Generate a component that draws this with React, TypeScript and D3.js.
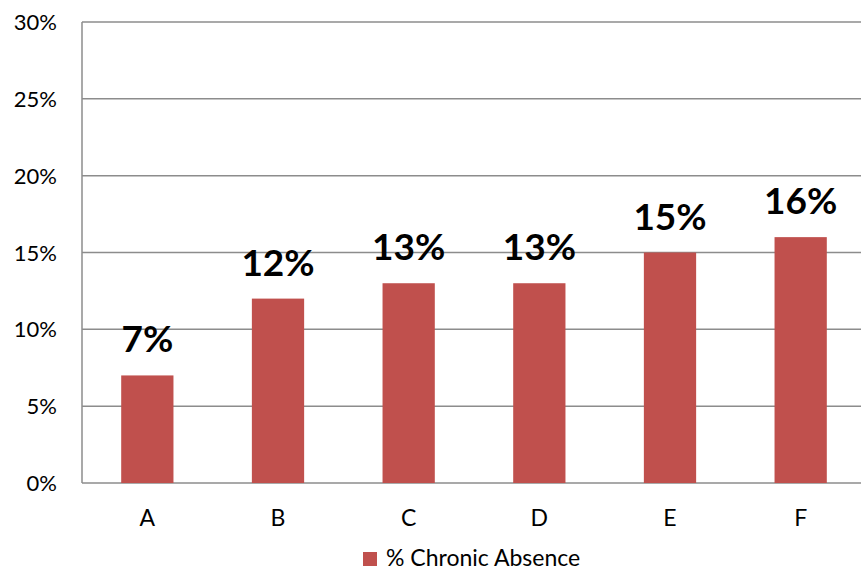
import * as d3 from "d3";

const categories = ["A", "B", "C", "D", "E", "F"];
const values = [7, 12, 13, 13, 15, 16];
const yTicks = [0, 5, 10, 15, 20, 25, 30];
const seriesName = "% Chronic Absence";

const W = 861;
const H = 570;
const margin = { left: 82, top: 22, bottom: 87 };
const plotRight = 866;
const font = "Lato, 'Open Sans', sans-serif";

export default function App() {
  const x = d3
    .scaleBand<string>()
    .domain(categories)
    .range([margin.left, plotRight])
    .paddingInner(0.6)
    .paddingOuter(0.3);
  const y = d3.scaleLinear().domain([0, 30]).range([H - margin.bottom, margin.top]);

  return (
    <svg
      width={W}
      height={H}
      style={{ position: "absolute", left: 0, top: 0, background: "#fff" }}
      fontFamily={font}
    >
      {yTicks.map((t) => (
        <g key={t}>
          <line x1={margin.left} x2={W} y1={y(t)} y2={y(t)} stroke="#8c8c8c" strokeWidth={1.5} />
          <text x={57} y={y(t) + 8} textAnchor="end" fontSize={22} fill="#000">
            {t}%
          </text>
        </g>
      ))}
      <line x1={margin.left} x2={margin.left} y1={margin.top} y2={y(0)} stroke="#8c8c8c" strokeWidth={1.5} />
      {categories.map((c, i) => (
        <g key={c}>
          <rect
            x={x(c)!}
            y={y(values[i])}
            width={x.bandwidth()}
            height={y(0) - y(values[i])}
            fill="#C0504D"
          />
          <text
            x={x(c)! + x.bandwidth() / 2}
            y={y(values[i]) - 23}
            textAnchor="middle"
            fontSize={37}
            fontWeight="bold"
            fill="#000"
          >
            {values[i]}%
          </text>
          <text x={x(c)! + x.bandwidth() / 2} y={526} textAnchor="middle" fontSize={23} fill="#000">
            {c}
          </text>
        </g>
      ))}
      <rect x={363} y={552} width={14} height={14} fill="#C0504D" />
      <text x={386} y={566} fontSize={23} fill="#000">
        {seriesName}
      </text>
    </svg>
  );
}
